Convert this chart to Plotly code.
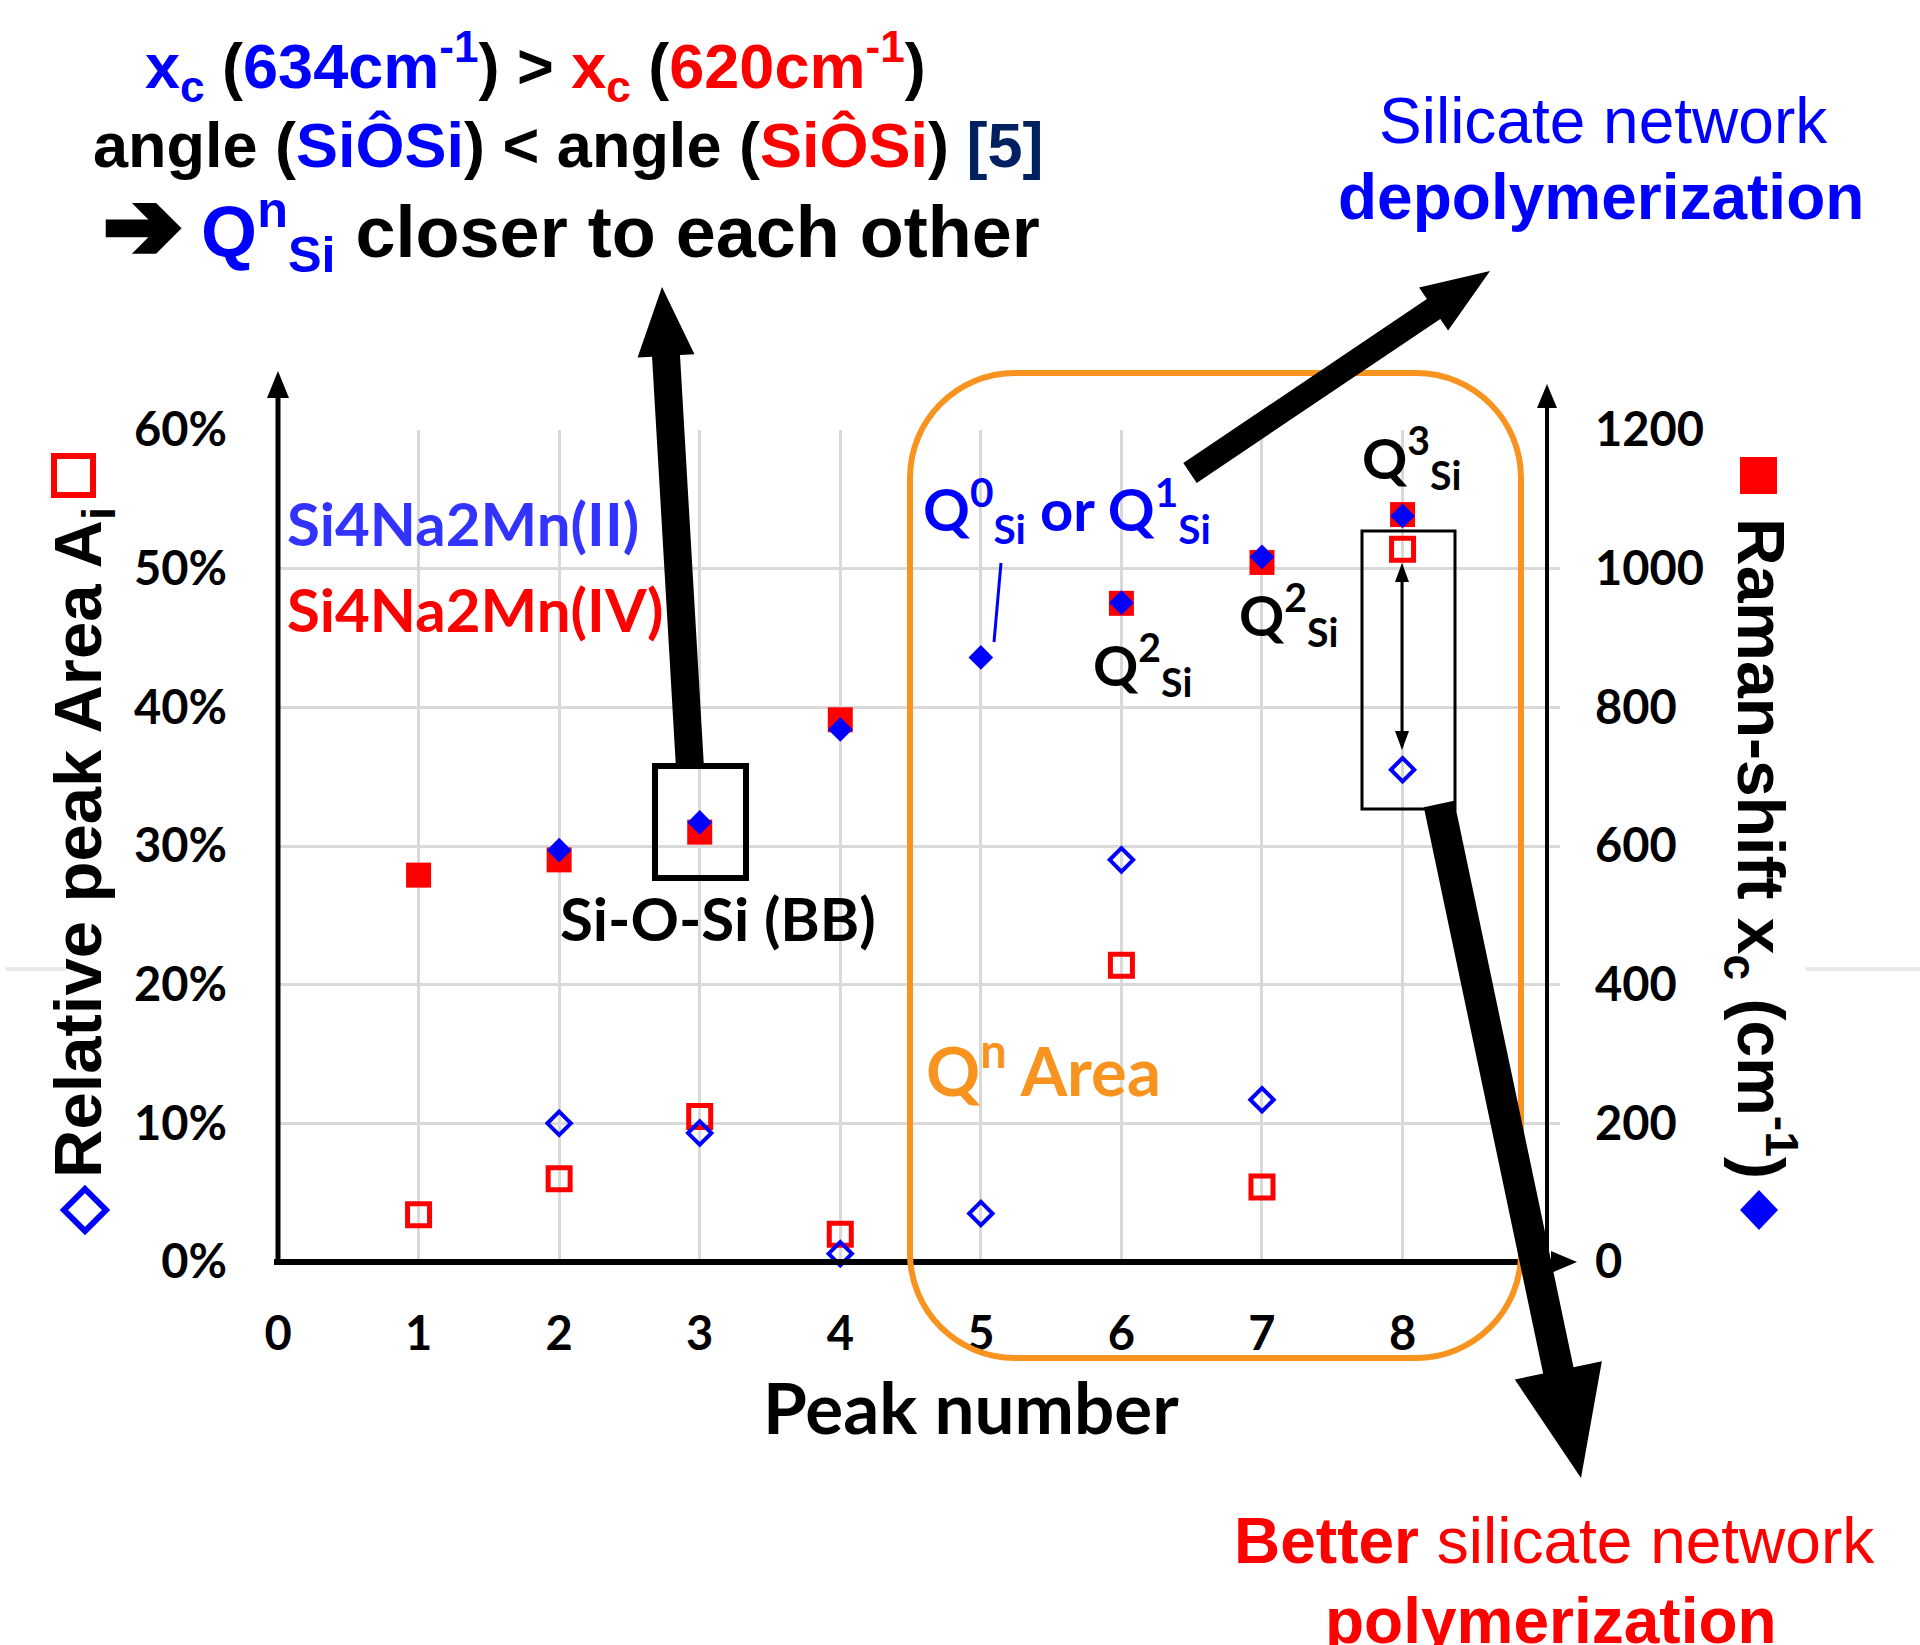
import math
import plotly.graph_objects as go

# ---------------- data ----------------
peaks = [1, 2, 3, 4, 5, 6, 7, 8]
area_II = [None, 10.0, 9.3, 0.6, 3.5, 29.0, 11.7, 35.5]      # blue open diamonds (left axis, %)
area_IV = [3.4, 6.0, 10.5, 2.0, None, 21.4, 5.4, 51.4]       # red open squares (left axis, %)
shift_II = [None, 594, 634, 768, 872, 951, 1017, 1076]       # blue filled diamonds (right axis, cm-1)
shift_IV = [558, 580, 620, 782, None, 950, 1009, 1078]       # red filled squares (right axis, cm-1)
x_ticks = [0, 1, 2, 3, 4, 5, 6, 7, 8]
left_ticks = [0, 10, 20, 30, 40, 50, 60]
left_tick_text = ["0%", "10%", "20%", "30%", "40%", "50%", "60%"]
right_ticks = [0, 200, 400, 600, 800, 1000, 1200]

# ---------------- layout helpers ----------------
W, H = 1920, 1645
PL, PR, PT, PB = 278, 1560, 430, 1262


def px(x):
    return (x - PL) / (PR - PL)


def py(y):
    return (PB - y) / (PB - PT)


def pt(x, y):
    return f"{px(x):.5f},{py(y):.5f}"


BLUE = "#0000ff"
BLUE2 = "#3333ff"
RED = "#ff0000"
ORANGE = "#f7931e"
NAVY = "#002060"
GRID = "#d9d9d9"
CAL = "Lato, Carlito, Calibri, sans-serif"
ARI = "Liberation Sans, Arial, sans-serif"

fig = go.Figure()

fig.add_trace(go.Scatter(x=peaks, y=area_IV, mode="markers", yaxis="y",
                         marker=dict(symbol="square-open", size=22, color=RED, line=dict(width=5, color=RED)),
                         cliponaxis=False, showlegend=False))
fig.add_trace(go.Scatter(x=peaks, y=area_II, mode="markers", yaxis="y",
                         marker=dict(symbol="diamond-open", size=18, color=BLUE, line=dict(width=4, color=BLUE)),
                         cliponaxis=False, showlegend=False))
fig.add_trace(go.Scatter(x=peaks, y=shift_IV, mode="markers", yaxis="y2",
                         marker=dict(symbol="square", size=25, color=RED, line=dict(width=0)),
                         cliponaxis=False, showlegend=False))
fig.add_trace(go.Scatter(x=peaks, y=shift_II, mode="markers", yaxis="y2",
                         marker=dict(symbol="diamond", size=19, color=BLUE, line=dict(width=0)),
                         cliponaxis=False, showlegend=False))

shapes = []


def line(x0, y0, x1, y1, color="black", width=3):
    shapes.append(dict(type="line", xref="paper", yref="paper", x0=px(x0), y0=py(y0),
                       x1=px(x1), y1=py(y1), line=dict(color=color, width=width), layer="above"))


def poly(points, color="black", fill=True, width=0):
    path = "M" + "L".join(pt(x, y) for x, y in points) + "Z"
    shapes.append(dict(type="path", xref="paper", yref="paper", path=path,
                       fillcolor=color if fill else "rgba(0,0,0,0)",
                       line=dict(color=color, width=width), layer="above"))


def big_arrow(tail, tip, w, hw, hl, color="black"):
    tx, ty = tail
    qx, qy = tip
    d = math.hypot(qx - tx, qy - ty)
    ux, uy = (qx - tx) / d, (qy - ty) / d
    nx, ny = -uy, ux
    bx, by = qx - hl * ux, qy - hl * uy
    pts = [(tx + nx * w / 2, ty + ny * w / 2), (bx + nx * w / 2, by + ny * w / 2),
           (bx + nx * hw / 2, by + ny * hw / 2), (qx, qy),
           (bx - nx * hw / 2, by - ny * hw / 2), (bx - nx * w / 2, by - ny * w / 2),
           (tx - nx * w / 2, ty - ny * w / 2)]
    poly(pts, color)


def rounded_rect(x0, y0, x1, y1, r, color, width):
    k = 0.5523 * r
    p = (f"M{pt(x0 + r, y0)}L{pt(x1 - r, y0)}"
         f"C{pt(x1 - r + k, y0)} {pt(x1, y0 + r - k)} {pt(x1, y0 + r)}"
         f"L{pt(x1, y1 - r)}"
         f"C{pt(x1, y1 - r + k)} {pt(x1 - r + k, y1)} {pt(x1 - r, y1)}"
         f"L{pt(x0 + r, y1)}"
         f"C{pt(x0 + r - k, y1)} {pt(x0, y1 - r + k)} {pt(x0, y1 - r)}"
         f"L{pt(x0, y0 + r)}"
         f"C{pt(x0, y0 + r - k)} {pt(x0 + r - k, y0)} {pt(x0 + r, y0)}Z")
    shapes.append(dict(type="path", xref="paper", yref="paper", path=p,
                       line=dict(color=color, width=width), fillcolor="rgba(0,0,0,0)", layer="above"))


# faint artefact lines at the edges
line(6, 969, 67, 969, "#e8e8e8", 4)
line(1806, 969, 1920, 969, "#e8e8e8", 4)

# axes drawn as arrows
line(278, 1265, 278, 392, "black", 5)
poly([(278, 371), (289, 398), (267, 398)])
line(1547, 1262, 1547, 402, "black", 4)
poly([(1547, 384), (1557, 408), (1537, 408)])
line(274, 1262, 1556, 1262, "black", 6)
poly([(1577, 1262), (1551, 1251), (1551, 1273)])

# orange Q^n area box
rounded_rect(910, 373, 1521, 1358, 105, ORANGE, 6)

# black boxes
shapes.append(dict(type="rect", xref="paper", yref="paper", x0=px(655), x1=px(746), y0=py(766), y1=py(878),
                   line=dict(color="black", width=6), layer="above"))
shapes.append(dict(type="rect", xref="paper", yref="paper", x0=px(1362), x1=px(1455), y0=py(531), y1=py(809),
                   line=dict(color="black", width=3), layer="above"))

# double arrow in the right box
line(1402, 576, 1402, 737, "black", 3)
poly([(1402, 563), (1409, 582), (1395, 582)])
poly([(1402, 750), (1409, 731), (1395, 731)])

# blue leader line
line(1001, 563, 994, 642, BLUE, 3)

# legend-like symbols next to the axis titles
poly([(54, 456), (93, 456), (93, 495), (54, 495)], RED, fill=False, width=6)
poly([(85, 1189), (106, 1210), (85, 1231), (64, 1210)], BLUE, fill=False, width=6)
poly([(1740, 457), (1777, 457), (1777, 494), (1740, 494)], RED)
poly([(1759, 1190), (1778, 1210), (1759, 1230), (1740, 1210)], BLUE)

# big black arrows
big_arrow((690, 768), (662, 287), 28, 57, 69)
big_arrow((1190, 473), (1490, 271), 24, 52, 68)
big_arrow((1439, 804), (1581, 1478), 31, 89, 110)

annotations = []


def text(x, y, s, size, color="black", family=CAL, xanchor="center", angle=0):
    annotations.append(dict(xref="paper", yref="paper", x=px(x), y=py(y), text=s, showarrow=False,
                            xanchor=xanchor, yanchor="middle", textangle=angle,
                            font=dict(family=family, size=size, color=color)))


def c(s, col):
    return f'<span style="color:{col}">{s}</span>'


# header (top left)
text(535, 66, "<b>" + c("x<sub>c</sub>", BLUE) + " (" + c("634cm<sup>-1</sup>", BLUE) + ") &gt; "
     + c("x<sub>c</sub>", RED) + " (" + c("620cm<sup>-1</sup>", RED) + ")</b>", 63, family=ARI)
text(568, 145, "<b>angle (" + c("SiÔSi", BLUE) + ") &lt; angle (" + c("SiÔSi", RED) + ") "
     + c("[5]", NAVY) + "</b>", 63, family=ARI)
text(572, 227, '<b><span style="font-family:DejaVu Sans;font-size:92px;stroke:black;stroke-width:7px">➔</span> '
     + c("Q<sup>n</sup><sub>Si</sub>", BLUE) + " closer to each other</b>", 72, family=ARI)

# header (top right)
text(1603, 121, "Silicate network", 64, BLUE, ARI)
text(1601, 197, "<b>depolymerization</b>", 64, BLUE, ARI)

# bottom right
text(1554, 1541, "<b>Better</b> silicate network", 64, RED, ARI)
text(1551, 1621, "<b>polymerization</b>", 64, RED, ARI)

# in-plot labels
text(285, 523, "<b>Si4Na2Mn(II)</b>", 60, BLUE2, xanchor="left")
text(285, 609, "<b>Si4Na2Mn(IV)</b>", 60, RED, xanchor="left")
text(718, 918, "<b>Si-O-Si (BB)</b>", 60)
text(921, 510, "<b>Q<sup>0</sup><sub>Si</sub> or Q<sup>1</sup><sub>Si</sub></b>", 58, BLUE, xanchor="left")
text(1091, 664, "<b>Q<sup>2</sup><sub>Si</sub></b>", 56, xanchor="left")
text(1237, 614, "<b>Q<sup>2</sup><sub>Si</sub></b>", 56, xanchor="left")
text(1360, 457, "<b>Q<sup>3</sup><sub>Si</sub></b>", 56, xanchor="left")
text(924, 1066, "<b>Q<sup>n</sup> Area</b>", 67, ORANGE, xanchor="left")

# axis titles
text(971, 1406, "<b>Peak number</b>", 71)
text(82, 843, "<b>Relative peak Area A<sub>i</sub></b>", 67, family=ARI, angle=-90)
text(1761, 848, "<b>Raman-shift x<sub>c</sub> (cm<sup>-1</sup>)</b>", 66, family=ARI, angle=90)

tickfont = dict(family=CAL, size=47, color="black", weight="bold")

fig.update_layout(
    width=W, height=H,
    margin=dict(l=PL, r=W - PR, t=PT, b=H - PB, pad=0),
    paper_bgcolor="white", plot_bgcolor="white",
    showlegend=False,
    xaxis=dict(range=[0, 9.12], tickvals=x_ticks, showgrid=True, gridcolor=GRID, gridwidth=2.5,
               zeroline=False, showline=False, ticks="", tickfont=tickfont, ticklabelstandoff=40,
               fixedrange=True),
    yaxis=dict(range=[0, 60], tickvals=left_ticks, ticktext=left_tick_text, showgrid=True, gridcolor=GRID,
               gridwidth=2.5, zeroline=False, showline=False, ticks="", tickfont=tickfont,
               ticklabelstandoff=50, fixedrange=True),
    yaxis2=dict(range=[0, 1200], tickvals=right_ticks, overlaying="y", side="right", showgrid=False,
                zeroline=False, showline=False, ticks="", tickfont=tickfont, ticklabelstandoff=34,
                fixedrange=True),
    shapes=shapes,
    annotations=annotations,
)

fig.write_html("out.html", config={"displayModeBar": False})
